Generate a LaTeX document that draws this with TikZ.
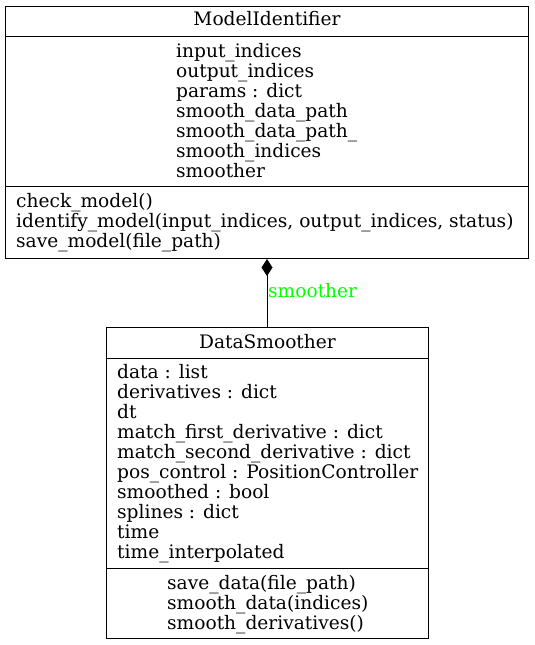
\documentclass[tikz,border=0pt]{standalone}
\usepackage{fontspec}
\setmainfont{DejaVu Serif}
\usetikzlibrary{arrows.meta}
\definecolor{labelgreen}{HTML}{00FF00}
\begin{document}
\begin{tikzpicture}[x=1pt,y=-1pt,
  classbox/.style={draw=black, line width=1pt, inner sep=0pt, fill=white},
  rule/.style={draw=black, line width=1pt},
  textsize/.style={font=\fontsize{18.6}{20}\selectfont},
  member/.style={textsize, anchor=base west, inner sep=0pt},
  title/.style={textsize, anchor=base, inner sep=0pt},
  assoc/.style={draw=black, line width=1pt, {Diamond[length=17pt,width=11pt]}-},
  rolelabel/.style={textsize, anchor=base west, inner sep=0pt, text=labelgreen}
]
\useasboundingbox (0,0) rectangle (535,645);

% ModelIdentifier class
\node[classbox, minimum width=523pt, minimum height=252pt] (mi) at (267,132.5) {};
\draw[rule] (mi.west |- 0,36.5) -- (mi.east |- 0,36.5);
\draw[rule] (mi.west |- 0,186.5) -- (mi.east |- 0,186.5);
\node[title] (mititle) at (267,25) {ModelIdentifier};
\node[member] (mia1) at (176,57) {input\_indices};
\node[member] (mia2) at (176,77) {output\_indices};
\node[member] (mia3) at (176,97) {params : dict};
\node[member] (mia4) at (176,117) {smooth\_data\_path};
\node[member] (mia5) at (176,137) {smooth\_data\_path\_};
\node[member] (mia6) at (176,157) {smooth\_indices};
\node[member] (mia7) at (176,177) {smoother};
\node[member] (mim1) at (16,207) {check\_model()};
\node[member] (mim2) at (16,227) {identify\_model(input\_indices, output\_indices, status)};
\node[member] (mim3) at (16,247) {save\_model(file\_path)};

% DataSmoother class
\node[classbox, minimum width=322pt, minimum height=311pt] (ds) at (267.5,483) {};
\draw[rule] (ds.west |- 0,358.5) -- (ds.east |- 0,358.5);
\draw[rule] (ds.west |- 0,568.5) -- (ds.east |- 0,568.5);
\node[title] (dstitle) at (267.5,348) {DataSmoother};
\node[member] (dsa1) at (117,378) {data : list};
\node[member] (dsa2) at (117,398) {derivatives : dict};
\node[member] (dsa3) at (117,418) {dt};
\node[member] (dsa4) at (117,438) {match\_first\_derivative : dict};
\node[member] (dsa5) at (117,458) {match\_second\_derivative : dict};
\node[member] (dsa6) at (117,478) {pos\_control : PositionController};
\node[member] (dsa7) at (117,498) {smoothed : bool};
\node[member] (dsa8) at (117,518) {splines : dict};
\node[member] (dsa9) at (117,538) {time};
\node[member] (dsa10) at (117,558) {time\_interpolated};
\node[member] (dsm1) at (167,589) {save\_data(file\_path)};
\node[member] (dsm2) at (167,609) {smooth\_data(indices)};
\node[member] (dsm3) at (167,629) {smooth\_derivatives()};

% composition: DataSmoother is the smoother of ModelIdentifier
\draw[assoc] (mi.south) -- (mi.south |- ds.north);
\node[rolelabel] (role) at (268,297) {smoother};
\end{tikzpicture}
\end{document}
